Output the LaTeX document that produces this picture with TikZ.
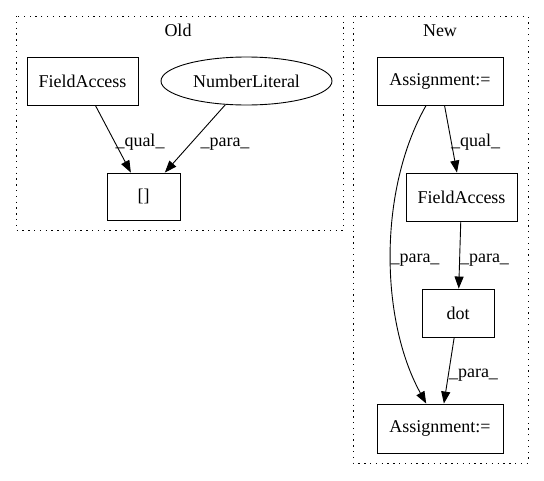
\documentclass[tikz,border=0pt]{standalone}
\usepackage{fontspec}
\setmainfont{Liberation Serif}
\usetikzlibrary{arrows.meta,shapes.geometric}
\begin{document}
\begin{tikzpicture}[x=1pt,y=-1pt,
  font=\fontsize{18pt}{20pt}\selectfont,
  box/.style={draw,line width=0.9pt,rectangle,inner sep=0pt},
  oval/.style={draw,line width=0.9pt,ellipse,inner sep=0pt},
  cluster/.style={draw,line width=1pt,dash pattern=on 1.3pt off 4.5pt},
  edge/.style={draw,line width=0.9pt,-{Triangle[length=12pt,width=9pt]}},
  lbl/.style={inner sep=0pt,anchor=base}]
\useasboundingbox (0,0) rectangle (544,480);
% clusters
\draw[cluster] (16,16) rectangle (343,230);
\node[lbl] (told) at (178,36) {Old};
\draw[cluster] (353,16) rectangle (528,463);
\node[lbl] (tnew) at (440,36) {New};
% Old nodes
\node[box,minimum width=111pt,minimum height=48pt] (fa1) at (82.5,81) {FieldAccess};
\node[oval,minimum width=171pt,minimum height=48pt] (nl) at (246.5,81) {NumberLiteral};
\node[box,minimum width=73pt,minimum height=47pt] (br) at (143.5,196.5) {[]};
% New nodes
\node[box,minimum width=126pt,minimum height=48pt] (as1) at (440,81) {Assignment:=};
\node[box,minimum width=111pt,minimum height=48pt] (fa2) at (461.5,197) {FieldAccess};
\node[box,minimum width=72pt,minimum height=48pt] (dot) at (458,313) {dot};
\node[box,minimum width=126pt,minimum height=49pt] (as2) at (440,428.5) {Assignment:=};
% Old edges
\draw[edge] (fa1) -- (br);
\node[lbl] (l1) at (140,146) {\_qual\_};
\draw[edge] (nl) -- (br);
\node[lbl] (l2) at (225,146) {\_para\_};
% New edges
\draw[edge] (as1) -- (fa2);
\node[lbl] (l3) at (475.5,146) {\_qual\_};
\draw[edge] (as1) .. controls (378,190) and (380,320) .. (as2);
\node[lbl] (l4) at (415,262) {\_para\_};
\draw[edge] (fa2) -- (dot);
\node[lbl] (l5) at (484.5,262) {\_para\_};
\draw[edge] (dot) -- (as2);
\node[lbl] (l6) at (473.5,377.5) {\_para\_};
\end{tikzpicture}
\end{document}
